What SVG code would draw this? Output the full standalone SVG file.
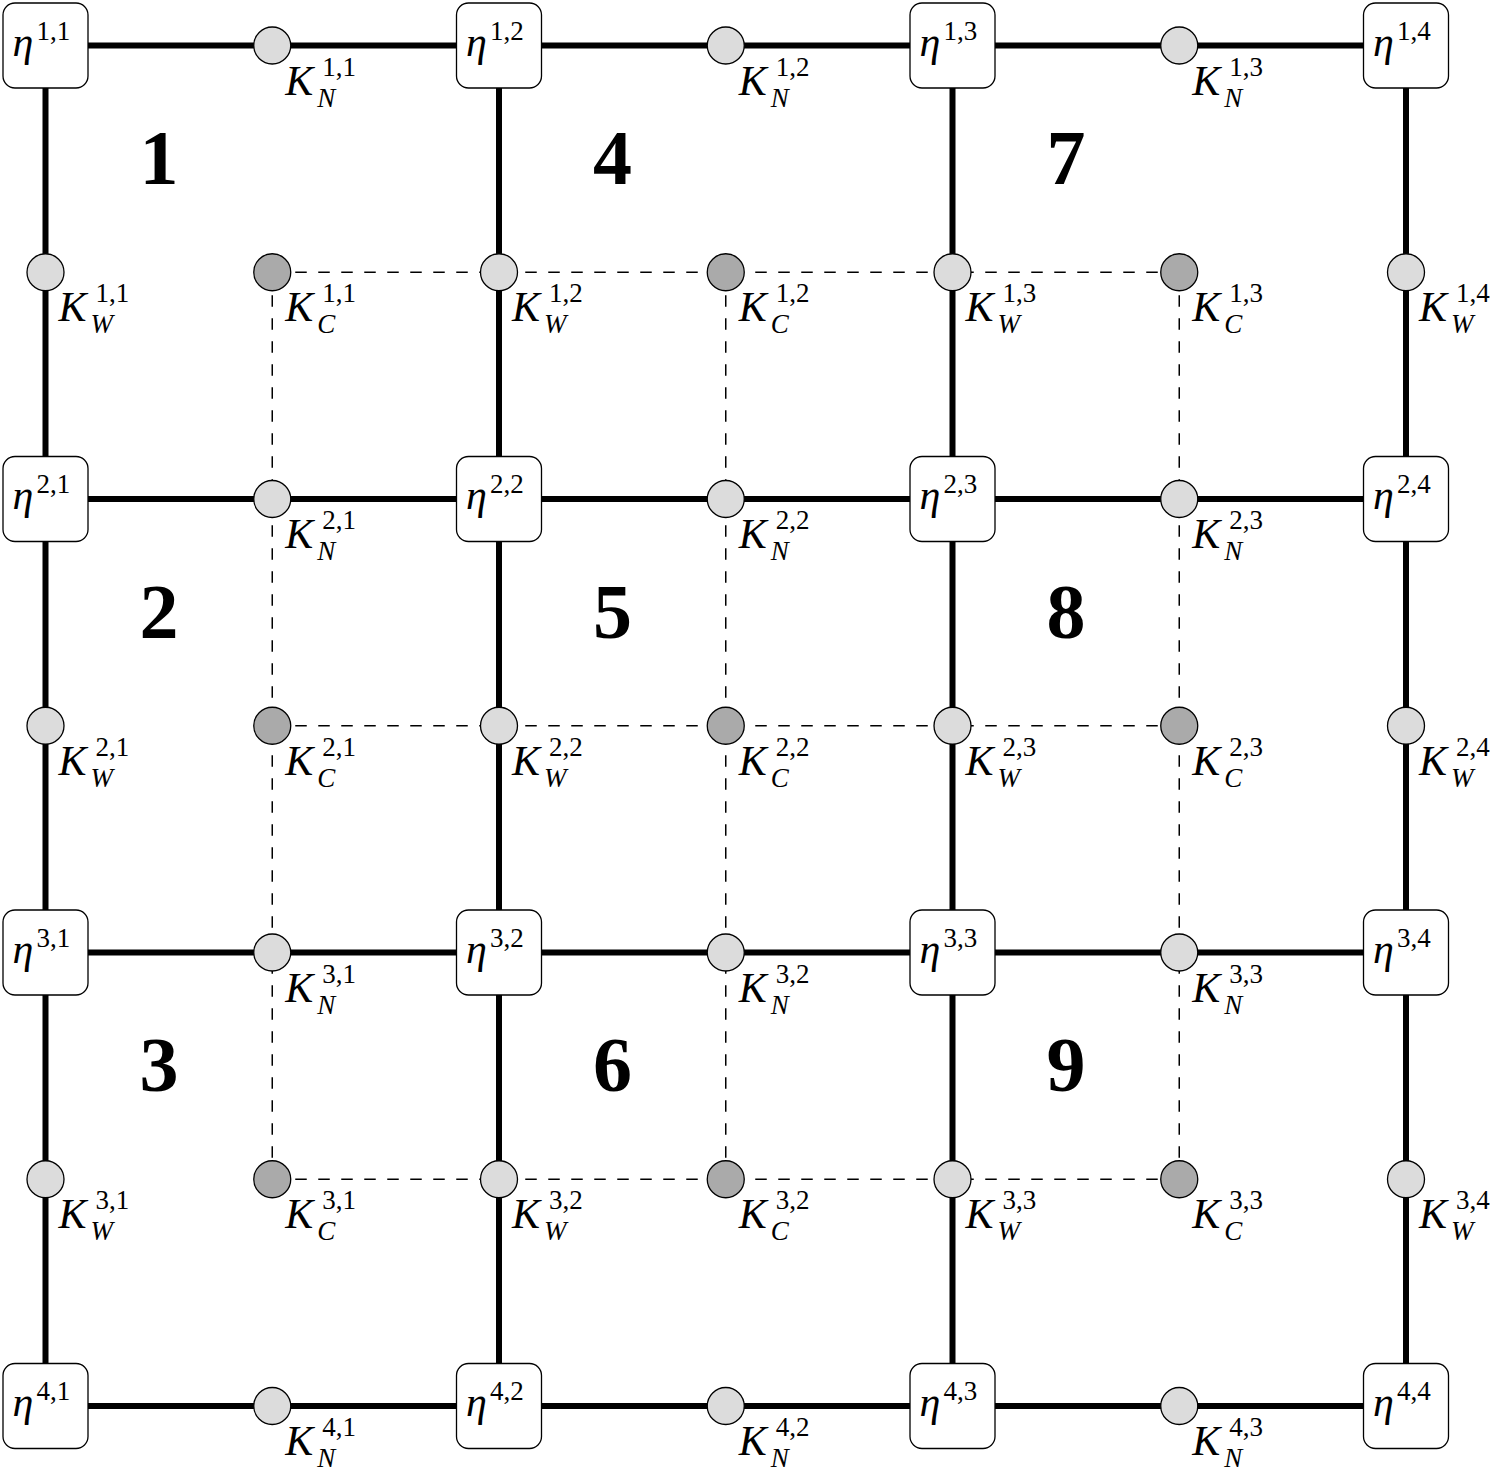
<svg xmlns="http://www.w3.org/2000/svg" width="1512" height="1480" viewBox="0 0 1512 1480">
<style>
.thick{stroke:#000;stroke-width:6;fill:none}
.dash{stroke:#000;stroke-width:1.5;stroke-dasharray:11.5 11.5;fill:none}
.box{fill:#fff;stroke:#000;stroke-width:1.3}
.kl{fill:#dcdcdc;stroke:#000;stroke-width:1.3}
.kd{fill:#aaaaaa;stroke:#000;stroke-width:1.3}
.m{font-family:"Liberation Serif",serif;font-style:italic;font-size:42px}
.s{font-style:normal;font-size:27px}
.si{font-style:italic;font-size:27px}
.num{font-family:"Liberation Serif",serif;font-weight:bold;font-size:78px;text-anchor:middle}
</style>
<rect width="1512" height="1480" fill="#fff"/>
<g id="connectors">
<path class="thick" d="M45.5 45.5H1406M45.5 499H1406M45.5 952.5H1406M45.5 1406H1406M45.5 45.5V1406M499 45.5V1406M952.5 45.5V1406M1406 45.5V1406"/>
<path class="dash" d="M272.25 272.25H1179.25M272.25 725.75H1179.25M272.25 1179.25H1179.25M272.25 272.25V1179.25M725.75 272.25V1179.25M1179.25 272.25V1179.25"/>
</g>
<g id="regions">
<text class="num" x="158.9" y="184">1</text>
<text class="num" x="158.9" y="637.5">2</text>
<text class="num" x="158.9" y="1091">3</text>
<text class="num" x="612.4" y="184">4</text>
<text class="num" x="612.4" y="637.5">5</text>
<text class="num" x="612.4" y="1091">6</text>
<text class="num" x="1065.9" y="184">7</text>
<text class="num" x="1065.9" y="637.5">8</text>
<text class="num" x="1065.9" y="1091">9</text>
</g>
<g id="eta11" transform="translate(45.5,45.5)"><rect x="-42.5" y="-42.5" width="85" height="85" rx="12" class="box"/><text class="m" x="-33" y="10">η<tspan class="s" x="-9" y="-6">1,1</tspan></text></g>
<g id="eta12" transform="translate(499,45.5)"><rect x="-42.5" y="-42.5" width="85" height="85" rx="12" class="box"/><text class="m" x="-33" y="10">η<tspan class="s" x="-9" y="-6">1,2</tspan></text></g>
<g id="eta13" transform="translate(952.5,45.5)"><rect x="-42.5" y="-42.5" width="85" height="85" rx="12" class="box"/><text class="m" x="-33" y="10">η<tspan class="s" x="-9" y="-6">1,3</tspan></text></g>
<g id="eta14" transform="translate(1406,45.5)"><rect x="-42.5" y="-42.5" width="85" height="85" rx="12" class="box"/><text class="m" x="-33" y="10">η<tspan class="s" x="-9" y="-6">1,4</tspan></text></g>
<g id="eta21" transform="translate(45.5,499)"><rect x="-42.5" y="-42.5" width="85" height="85" rx="12" class="box"/><text class="m" x="-33" y="10">η<tspan class="s" x="-9" y="-6">2,1</tspan></text></g>
<g id="eta22" transform="translate(499,499)"><rect x="-42.5" y="-42.5" width="85" height="85" rx="12" class="box"/><text class="m" x="-33" y="10">η<tspan class="s" x="-9" y="-6">2,2</tspan></text></g>
<g id="eta23" transform="translate(952.5,499)"><rect x="-42.5" y="-42.5" width="85" height="85" rx="12" class="box"/><text class="m" x="-33" y="10">η<tspan class="s" x="-9" y="-6">2,3</tspan></text></g>
<g id="eta24" transform="translate(1406,499)"><rect x="-42.5" y="-42.5" width="85" height="85" rx="12" class="box"/><text class="m" x="-33" y="10">η<tspan class="s" x="-9" y="-6">2,4</tspan></text></g>
<g id="eta31" transform="translate(45.5,952.5)"><rect x="-42.5" y="-42.5" width="85" height="85" rx="12" class="box"/><text class="m" x="-33" y="10">η<tspan class="s" x="-9" y="-6">3,1</tspan></text></g>
<g id="eta32" transform="translate(499,952.5)"><rect x="-42.5" y="-42.5" width="85" height="85" rx="12" class="box"/><text class="m" x="-33" y="10">η<tspan class="s" x="-9" y="-6">3,2</tspan></text></g>
<g id="eta33" transform="translate(952.5,952.5)"><rect x="-42.5" y="-42.5" width="85" height="85" rx="12" class="box"/><text class="m" x="-33" y="10">η<tspan class="s" x="-9" y="-6">3,3</tspan></text></g>
<g id="eta34" transform="translate(1406,952.5)"><rect x="-42.5" y="-42.5" width="85" height="85" rx="12" class="box"/><text class="m" x="-33" y="10">η<tspan class="s" x="-9" y="-6">3,4</tspan></text></g>
<g id="eta41" transform="translate(45.5,1406)"><rect x="-42.5" y="-42.5" width="85" height="85" rx="12" class="box"/><text class="m" x="-33" y="10">η<tspan class="s" x="-9" y="-6">4,1</tspan></text></g>
<g id="eta42" transform="translate(499,1406)"><rect x="-42.5" y="-42.5" width="85" height="85" rx="12" class="box"/><text class="m" x="-33" y="10">η<tspan class="s" x="-9" y="-6">4,2</tspan></text></g>
<g id="eta43" transform="translate(952.5,1406)"><rect x="-42.5" y="-42.5" width="85" height="85" rx="12" class="box"/><text class="m" x="-33" y="10">η<tspan class="s" x="-9" y="-6">4,3</tspan></text></g>
<g id="eta44" transform="translate(1406,1406)"><rect x="-42.5" y="-42.5" width="85" height="85" rx="12" class="box"/><text class="m" x="-33" y="10">η<tspan class="s" x="-9" y="-6">4,4</tspan></text></g>

<g id="KN11" transform="translate(272.25,45.5)"><circle r="18.5" class="kl"/><text class="m" x="13" y="49">K<tspan class="s" x="50" y="30">1,1</tspan><tspan class="si" x="45" y="61">N</tspan></text></g>
<g id="KN12" transform="translate(725.75,45.5)"><circle r="18.5" class="kl"/><text class="m" x="13" y="49">K<tspan class="s" x="50" y="30">1,2</tspan><tspan class="si" x="45" y="61">N</tspan></text></g>
<g id="KN13" transform="translate(1179.25,45.5)"><circle r="18.5" class="kl"/><text class="m" x="13" y="49">K<tspan class="s" x="50" y="30">1,3</tspan><tspan class="si" x="45" y="61">N</tspan></text></g>
<g id="KN21" transform="translate(272.25,499)"><circle r="18.5" class="kl"/><text class="m" x="13" y="49">K<tspan class="s" x="50" y="30">2,1</tspan><tspan class="si" x="45" y="61">N</tspan></text></g>
<g id="KN22" transform="translate(725.75,499)"><circle r="18.5" class="kl"/><text class="m" x="13" y="49">K<tspan class="s" x="50" y="30">2,2</tspan><tspan class="si" x="45" y="61">N</tspan></text></g>
<g id="KN23" transform="translate(1179.25,499)"><circle r="18.5" class="kl"/><text class="m" x="13" y="49">K<tspan class="s" x="50" y="30">2,3</tspan><tspan class="si" x="45" y="61">N</tspan></text></g>
<g id="KN31" transform="translate(272.25,952.5)"><circle r="18.5" class="kl"/><text class="m" x="13" y="49">K<tspan class="s" x="50" y="30">3,1</tspan><tspan class="si" x="45" y="61">N</tspan></text></g>
<g id="KN32" transform="translate(725.75,952.5)"><circle r="18.5" class="kl"/><text class="m" x="13" y="49">K<tspan class="s" x="50" y="30">3,2</tspan><tspan class="si" x="45" y="61">N</tspan></text></g>
<g id="KN33" transform="translate(1179.25,952.5)"><circle r="18.5" class="kl"/><text class="m" x="13" y="49">K<tspan class="s" x="50" y="30">3,3</tspan><tspan class="si" x="45" y="61">N</tspan></text></g>
<g id="KN41" transform="translate(272.25,1406)"><circle r="18.5" class="kl"/><text class="m" x="13" y="49">K<tspan class="s" x="50" y="30">4,1</tspan><tspan class="si" x="45" y="61">N</tspan></text></g>
<g id="KN42" transform="translate(725.75,1406)"><circle r="18.5" class="kl"/><text class="m" x="13" y="49">K<tspan class="s" x="50" y="30">4,2</tspan><tspan class="si" x="45" y="61">N</tspan></text></g>
<g id="KN43" transform="translate(1179.25,1406)"><circle r="18.5" class="kl"/><text class="m" x="13" y="49">K<tspan class="s" x="50" y="30">4,3</tspan><tspan class="si" x="45" y="61">N</tspan></text></g>

<g id="KW11" transform="translate(45.5,272.25)"><circle r="18.5" class="kl"/><text class="m" x="13" y="49">K<tspan class="s" x="50" y="30">1,1</tspan><tspan class="si" x="45" y="61">W</tspan></text></g>
<g id="KW12" transform="translate(499,272.25)"><circle r="18.5" class="kl"/><text class="m" x="13" y="49">K<tspan class="s" x="50" y="30">1,2</tspan><tspan class="si" x="45" y="61">W</tspan></text></g>
<g id="KW13" transform="translate(952.5,272.25)"><circle r="18.5" class="kl"/><text class="m" x="13" y="49">K<tspan class="s" x="50" y="30">1,3</tspan><tspan class="si" x="45" y="61">W</tspan></text></g>
<g id="KW14" transform="translate(1406,272.25)"><circle r="18.5" class="kl"/><text class="m" x="13" y="49">K<tspan class="s" x="50" y="30">1,4</tspan><tspan class="si" x="45" y="61">W</tspan></text></g>
<g id="KW21" transform="translate(45.5,725.75)"><circle r="18.5" class="kl"/><text class="m" x="13" y="49">K<tspan class="s" x="50" y="30">2,1</tspan><tspan class="si" x="45" y="61">W</tspan></text></g>
<g id="KW22" transform="translate(499,725.75)"><circle r="18.5" class="kl"/><text class="m" x="13" y="49">K<tspan class="s" x="50" y="30">2,2</tspan><tspan class="si" x="45" y="61">W</tspan></text></g>
<g id="KW23" transform="translate(952.5,725.75)"><circle r="18.5" class="kl"/><text class="m" x="13" y="49">K<tspan class="s" x="50" y="30">2,3</tspan><tspan class="si" x="45" y="61">W</tspan></text></g>
<g id="KW24" transform="translate(1406,725.75)"><circle r="18.5" class="kl"/><text class="m" x="13" y="49">K<tspan class="s" x="50" y="30">2,4</tspan><tspan class="si" x="45" y="61">W</tspan></text></g>
<g id="KW31" transform="translate(45.5,1179.25)"><circle r="18.5" class="kl"/><text class="m" x="13" y="49">K<tspan class="s" x="50" y="30">3,1</tspan><tspan class="si" x="45" y="61">W</tspan></text></g>
<g id="KW32" transform="translate(499,1179.25)"><circle r="18.5" class="kl"/><text class="m" x="13" y="49">K<tspan class="s" x="50" y="30">3,2</tspan><tspan class="si" x="45" y="61">W</tspan></text></g>
<g id="KW33" transform="translate(952.5,1179.25)"><circle r="18.5" class="kl"/><text class="m" x="13" y="49">K<tspan class="s" x="50" y="30">3,3</tspan><tspan class="si" x="45" y="61">W</tspan></text></g>
<g id="KW34" transform="translate(1406,1179.25)"><circle r="18.5" class="kl"/><text class="m" x="13" y="49">K<tspan class="s" x="50" y="30">3,4</tspan><tspan class="si" x="45" y="61">W</tspan></text></g>

<g id="KC11" transform="translate(272.25,272.25)"><circle r="18.5" class="kd"/><text class="m" x="13" y="49">K<tspan class="s" x="50" y="30">1,1</tspan><tspan class="si" x="45" y="61">C</tspan></text></g>
<g id="KC12" transform="translate(725.75,272.25)"><circle r="18.5" class="kd"/><text class="m" x="13" y="49">K<tspan class="s" x="50" y="30">1,2</tspan><tspan class="si" x="45" y="61">C</tspan></text></g>
<g id="KC13" transform="translate(1179.25,272.25)"><circle r="18.5" class="kd"/><text class="m" x="13" y="49">K<tspan class="s" x="50" y="30">1,3</tspan><tspan class="si" x="45" y="61">C</tspan></text></g>
<g id="KC21" transform="translate(272.25,725.75)"><circle r="18.5" class="kd"/><text class="m" x="13" y="49">K<tspan class="s" x="50" y="30">2,1</tspan><tspan class="si" x="45" y="61">C</tspan></text></g>
<g id="KC22" transform="translate(725.75,725.75)"><circle r="18.5" class="kd"/><text class="m" x="13" y="49">K<tspan class="s" x="50" y="30">2,2</tspan><tspan class="si" x="45" y="61">C</tspan></text></g>
<g id="KC23" transform="translate(1179.25,725.75)"><circle r="18.5" class="kd"/><text class="m" x="13" y="49">K<tspan class="s" x="50" y="30">2,3</tspan><tspan class="si" x="45" y="61">C</tspan></text></g>
<g id="KC31" transform="translate(272.25,1179.25)"><circle r="18.5" class="kd"/><text class="m" x="13" y="49">K<tspan class="s" x="50" y="30">3,1</tspan><tspan class="si" x="45" y="61">C</tspan></text></g>
<g id="KC32" transform="translate(725.75,1179.25)"><circle r="18.5" class="kd"/><text class="m" x="13" y="49">K<tspan class="s" x="50" y="30">3,2</tspan><tspan class="si" x="45" y="61">C</tspan></text></g>
<g id="KC33" transform="translate(1179.25,1179.25)"><circle r="18.5" class="kd"/><text class="m" x="13" y="49">K<tspan class="s" x="50" y="30">3,3</tspan><tspan class="si" x="45" y="61">C</tspan></text></g>
</svg>
